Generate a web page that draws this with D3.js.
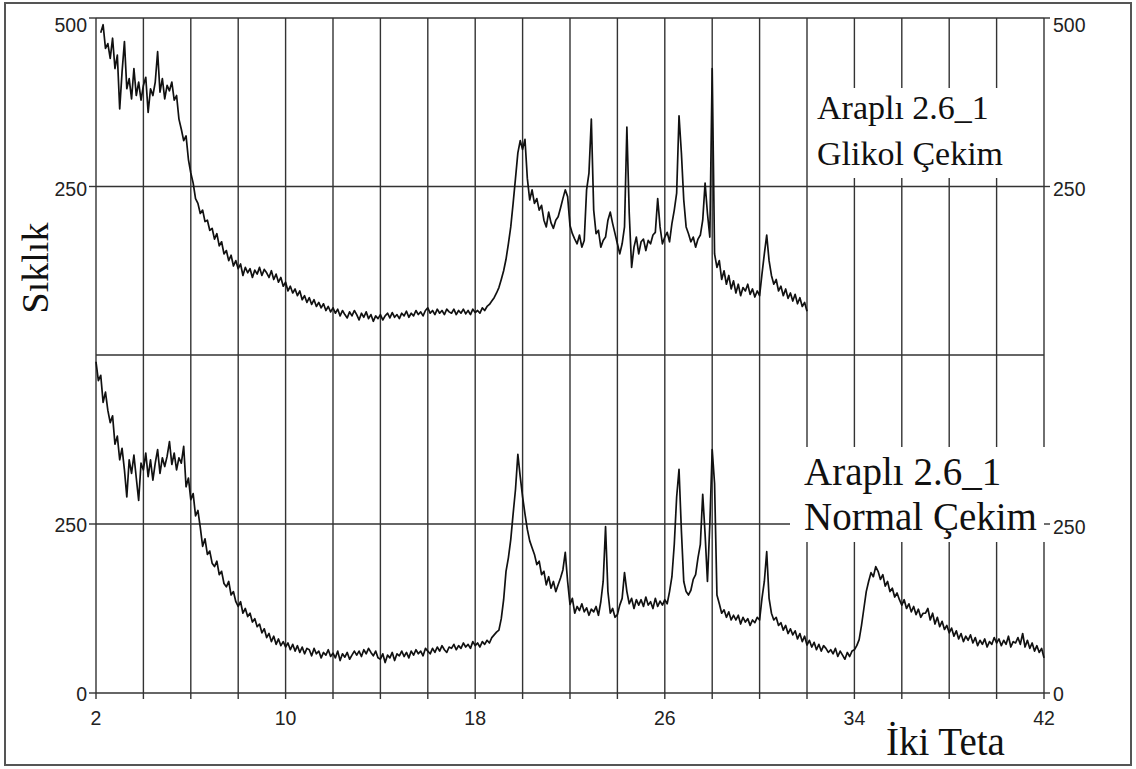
<!DOCTYPE html>
<html>
<head>
<meta charset="utf-8">
<script src="https://cdn.jsdelivr.net/npm/d3@7/dist/d3.min.js"></script>
<style>
  html, body { margin: 0; padding: 0; background: #fff; }
  svg { display: block; }
</style>
</head>
<body>
<svg id="chart" width="1136" height="769"></svg>
<script>
// ---------------- DATA ----------------
const step = 0.1;                 // 2θ step of the digitised patterns
const glikolStart = 2.2;          // first 2θ of the "Glikol Çekim" pattern
const normalStart = 2.0;          // first 2θ of the "Normal Çekim" pattern

// Glikol Çekim (upper panel), 2.2° – 32.0°
const glikolCounts = [
  478,490,455,462,440,470,425,445,365,420,
  465,395,410,380,425,385,405,378,400,412,
  360,395,385,405,450,390,410,380,400,392,
  405,378,385,350,335,318,325,290,270,255,
  232,225,210,215,198,200,185,188,172,180,
  162,168,150,155,140,148,132,140,128,135,
  118,130,122,128,115,126,120,130,118,127,
  122,115,125,112,120,108,115,102,108,95,
  102,92,98,88,95,82,88,78,85,75,
  82,72,78,70,76,66,72,64,70,62,
  68,58,66,60,55,64,58,66,60,52,
  62,56,64,54,60,50,58,54,60,52,
  58,62,55,63,56,60,54,62,58,65,
  56,62,58,66,60,64,58,66,70,62,
  66,60,68,62,66,60,68,64,62,68,
  60,66,62,68,61,66,60,68,63,66,
  62,70,66,72,75,80,85,92,100,112,
  125,142,165,190,225,262,300,318,305,320,
  262,230,245,225,232,215,222,200,190,212,
  196,188,200,205,218,232,245,235,192,180,
  172,165,178,160,170,245,270,350,215,180,
  185,160,170,175,200,212,195,180,165,150,
  165,190,338,210,130,160,175,150,168,172,
  155,170,165,178,182,232,190,165,175,182,
  168,195,215,240,355,300,230,190,180,168,
  175,160,172,178,200,255,210,175,425,150,
  130,140,112,125,105,118,98,110,92,105,
  88,100,95,105,90,98,86,95,88,120,
  150,178,140,118,105,112,95,102,88,98,
  84,92,80,90,76,85,72,78,65
];

// Normal Çekim (lower panel), 2.0° – 42.0°
const normalCounts = [
  490,462,470,430,445,418,400,410,368,380,
  345,362,330,290,345,325,352,318,285,340,
  330,355,320,345,315,340,360,325,348,335,
  350,372,338,355,330,348,340,365,305,318,
  286,295,262,270,245,217,228,205,210,192,
  187,195,175,180,162,157,165,145,150,135,
  128,135,118,125,113,118,105,110,98,102,
  89,95,82,88,76,84,72,80,70,76,
  68,74,64,72,62,70,60,68,58,66,
  64,55,66,58,62,52,60,56,64,54,
  59,52,62,48,58,53,60,50,56,62,
  56,62,54,64,58,66,60,55,62,52,
  50,58,45,56,52,60,48,58,55,62,
  54,60,52,62,56,64,58,62,55,66,
  62,58,66,60,68,62,70,64,60,68,
  66,72,64,70,66,74,68,72,66,76,
  70,74,68,76,72,78,74,82,86,90,
  93,110,138,180,200,227,265,301,353,320,
  290,265,242,225,215,205,190,195,175,180,
  160,172,155,165,150,160,170,182,208,165,
  131,140,118,128,122,132,120,126,115,124,
  120,128,115,135,165,246,150,118,125,112,
  116,130,140,178,150,132,140,125,138,130,
  138,128,142,130,135,125,140,128,136,130,
  138,132,150,172,220,290,331,240,165,150,
  145,152,168,175,200,220,294,235,165,250,
  360,310,145,132,118,123,112,120,108,115,
  108,115,102,112,105,110,100,108,104,112,
  108,140,165,209,140,118,108,112,100,104,
  93,100,88,95,86,92,80,88,76,84,
  71,78,68,75,64,72,62,70,66,60,
  64,58,66,54,62,56,50,60,54,62,
  64,70,79,100,125,150,165,178,172,187,
  180,168,175,158,165,150,155,142,148,138,
  130,138,125,132,120,128,116,124,112,118,
  118,125,108,118,102,112,98,106,94,100,
  89,96,84,92,80,88,76,84,78,86,
  74,82,70,78,72,80,68,76,72,82,
  74,80,70,78,72,84,68,76,74,82,
  72,88,68,78,66,74,62,70,60,66,
  52
];

const xGridTicks  = d3.range(2, 43, 2);
const xLabelTicks = [2, 10, 18, 26, 34, 42];
const topTicks    = [500, 250];
const bottomTicks = [250, 0];
const topTitle    = ["Araplı 2.6_1", "Glikol Çekim"];
const bottomTitle = ["Araplı 2.6_1", "Normal Çekim"];
const yTitle = "Sıklık";
const xTitle = "İki Teta";

// ---------------- CHART ----------------
const svg = d3.select("#chart");
const L = 96, R = 1044;
const x = d3.scaleLinear().domain([2, 42]).range([L, R]);
const yTop = d3.scaleLinear().domain([0, 500]).range([355, 18]);
const yBot = d3.scaleLinear().domain([0, 500]).range([693, 355]);

const gridColor = "#333";
const sans = "'Liberation Sans', Arial, sans-serif";
const serif = "'Liberation Serif', 'Times New Roman', serif";

// outer frame
svg.append("rect").attr("x", 5).attr("y", 3).attr("width", 1126).attr("height", 762)
  .attr("fill", "#fff").attr("stroke", "#555").attr("stroke-width", 2);

const grid = svg.append("g").attr("stroke", gridColor).attr("stroke-width", 1.4);
grid.selectAll("line.v").data(xGridTicks).join("line")
  .attr("x1", d => x(d)).attr("x2", d => x(d))
  .attr("y1", yTop(500)).attr("y2", yBot(0));
const hLines = [yTop(500), yTop(250), yTop(0), yBot(250), yBot(0)];
grid.selectAll("line.h").data(hLines).join("line")
  .attr("x1", L).attr("x2", R).attr("y1", d => d).attr("y2", d => d);

// white boxes behind the panel titles
svg.append("rect").attr("x", 812).attr("y", 88).attr("width", 198).attr("height", 90).attr("fill", "#fff");
svg.append("rect").attr("x", 790).attr("y", 447).attr("width", 257).attr("height", 95).attr("fill", "#fff");

// ticks
const ticks = svg.append("g").attr("stroke", gridColor).attr("stroke-width", 1.4);
ticks.selectAll("line.bx").data(xGridTicks).join("line")
  .attr("x1", d => x(d)).attr("x2", d => x(d)).attr("y1", yBot(0)).attr("y2", yBot(0) + 6);
const yTickPos = topTicks.map(d => yTop(d)).concat(bottomTicks.map(d => yBot(d)));
ticks.selectAll("line.ly").data(yTickPos).join("line")
  .attr("x1", L - 7).attr("x2", L).attr("y1", d => d).attr("y2", d => d);
ticks.selectAll("line.ry").data(yTickPos).join("line")
  .attr("x1", R).attr("x2", R + 6).attr("y1", d => d).attr("y2", d => d);

// tick labels
const lab = svg.append("g").attr("font-family", sans).attr("font-size", 19.5).attr("fill", "#222");
lab.selectAll("text.xl").data(xLabelTicks).join("text")
  .attr("x", d => x(d)).attr("y", 725).attr("text-anchor", "middle").text(d => d);
const yLabels = topTicks.map(d => ({v: d, y: d === 500 ? yTop(d) + 14 : yTop(d) + 9}))
  .concat(bottomTicks.map(d => ({v: d, y: yBot(d) + 8})));
lab.selectAll("text.yl").data(yLabels).join("text")
  .attr("x", L - 9).attr("y", d => d.y).attr("text-anchor", "end").text(d => d.v);
lab.selectAll("text.yr").data(yLabels).join("text")
  .attr("x", R + 9).attr("y", d => d.y + (d.v === 250 && d.y > 400 ? 2 : 0)).attr("text-anchor", "start").text(d => d.v);

// axis titles
svg.append("text").attr("font-family", serif).attr("font-size", 38).attr("fill", "#111")
  .attr("transform", "translate(48,268) rotate(-90)").attr("text-anchor", "middle").text(yTitle);
svg.append("text").attr("font-family", serif).attr("font-size", 39).attr("fill", "#111")
  .attr("x", 886).attr("y", 755).text(xTitle);

// panel titles
svg.append("g").attr("font-family", serif).attr("font-size", 34).attr("fill", "#111")
  .selectAll("text").data(topTitle).join("text")
  .attr("x", 817).attr("y", (d, i) => 119 + i * 46).text(d => d);
svg.append("g").attr("font-family", serif).attr("font-size", 39).attr("fill", "#111")
  .selectAll("text").data(bottomTitle).join("text")
  .attr("x", 804).attr("y", (d, i) => 485 + i * 45).text(d => d);

// patterns
const lineTop = d3.line().x((d, i) => x(glikolStart + i * step)).y(d => yTop(d));
const lineBot = d3.line().x((d, i) => x(normalStart + i * step)).y(d => yBot(d));
svg.append("path").datum(glikolCounts).attr("d", lineTop)
  .attr("fill", "none").attr("stroke", "#111").attr("stroke-width", 1.7).attr("stroke-linejoin", "round");
svg.append("path").datum(normalCounts).attr("d", lineBot)
  .attr("fill", "none").attr("stroke", "#111").attr("stroke-width", 1.7).attr("stroke-linejoin", "round");
</script>
</body>
</html>
